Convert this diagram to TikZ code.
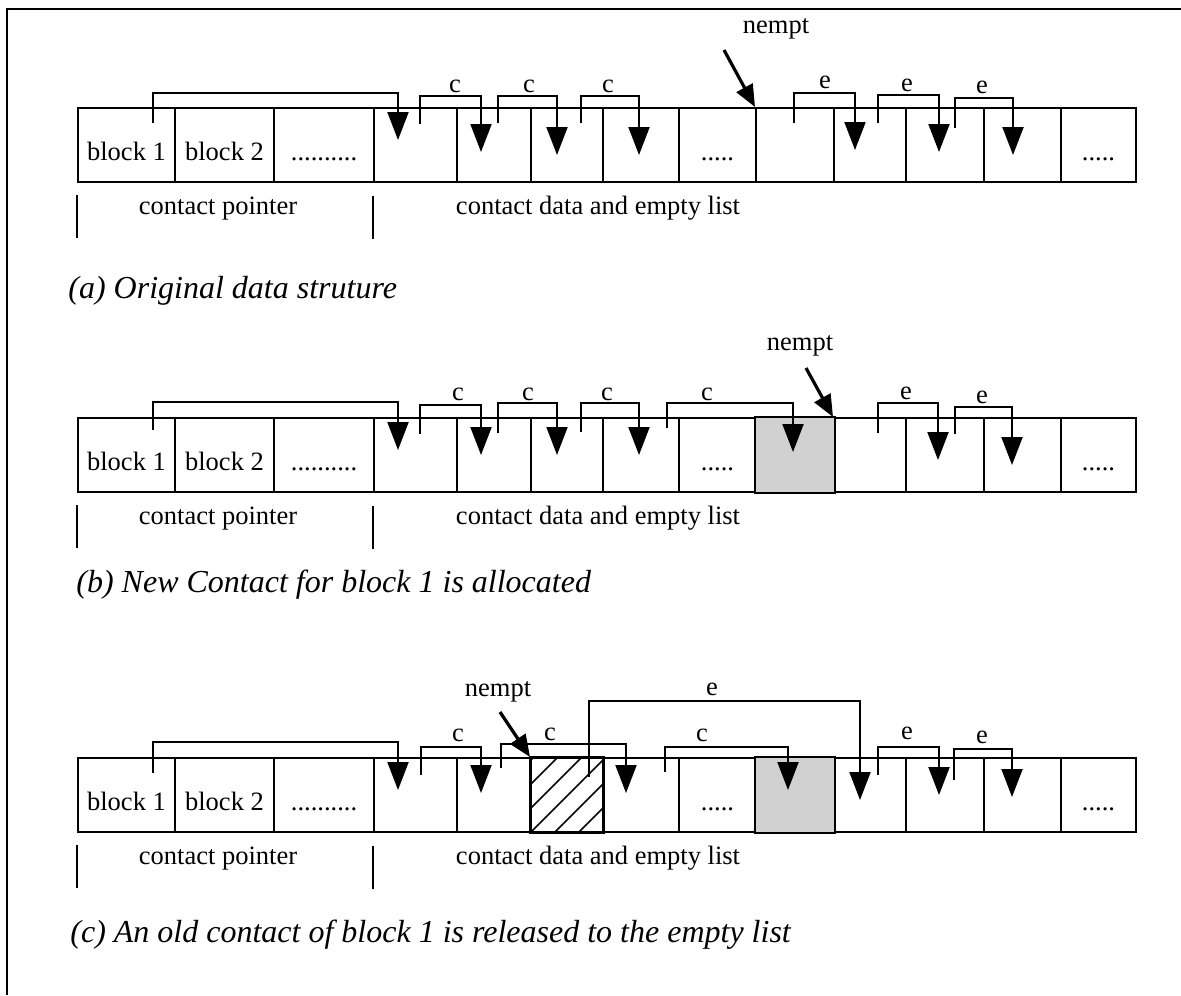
\documentclass[tikz,border=0pt]{standalone}
\usepackage{fontspec}
\setmainfont{Liberation Serif}
\usetikzlibrary{arrows.meta,calc}
\newcommand{\cellrow}[2]{%
  \foreach \i/\xa/\xb in {1/77/174,2/174/273,3/273/373,4/373/456,5/456/530,6/530/602,7/602/678,8/678/755,9/755/833,10/833/905,11/905/983,12/983/1060,13/1060/1135}{%
    \pgfmathsetmacro{\w}{(\xb-\xa)/2}%
    \node[cellbox,minimum width=\w pt] (#1\i) at (\xa,#2) {};
  }%
  \node[celltext] (#1t1) at ($(#11.center)+(0,15)$) {block 1};
  \node[celltext] (#1t2) at ($(#12.center)+(0,15)$) {block 2};
  \node[celltext] (#1t3) at ($(#13.center)+(0,15)$) {..........};
  \node[celltext] (#1t8) at ($(#18.center)+(0,15)$) {.....};
  \node[celltext] (#1t13) at ($(#113.center)+(0,15)$) {.....};
  \draw[bar] ($(#11.south west)+(0,12)$) -- ++(0,43);
  \draw[bar] ($(#14.south west)+(0,13)$) -- ++(0,43);
  \node[celltext] (#1cp) at ($(#11.south west)+(141,31)$) {contact pointer};
  \node[celltext] (#1cd) at ($(#11.south west)+(521,31)$) {contact data and empty list};
}
\newcommand{\ptrline}[6]{%
  \coordinate (#1s) at (#2,#3);
  \coordinate (#1e) at (#5,#6);
  \draw[ptr] (#1s) -- (#2,#4) -- (#5,#4) -- (#1e);
}
\newcommand{\plabel}[4]{\node[celltext] (#1) at (#2,#3) {#4};}
\begin{document}
\begin{tikzpicture}[x=0.5pt,y=-0.5pt,
  cellbox/.style={draw,line width=1pt,inner sep=0pt,minimum height=37pt,anchor=north west},
  celltext/.style={font=\fontsize{13.25}{15}\selectfont,anchor=base,inner sep=0pt},
  ptr/.style={line width=1pt,-{Triangle[width=10.5pt,length=14pt]}},
  nemptarrow/.style={line width=1.6pt,-{Triangle[width=9pt,length=11pt]}},
  capt/.style={font=\fontsize{16}{19}\selectfont\itshape,anchor=base west,inner sep=0pt},
  bar/.style={line width=1pt},
  shadedcell/.style={draw,line width=1pt,fill=black!18},
  hatchline/.style={line width=0.8pt}
]
\useasboundingbox (0,0) rectangle (1181,995);
\draw[line width=1.2pt] (7,995) -- (7,9) -- (1181,9);

% ---------------- (a) ----------------
\cellrow{a}{107}
\ptrline{ap0}{153}{123}{93}{398}{140}
\ptrline{ap1}{420}{124}{96}{481}{152}
\ptrline{ap2}{498}{123}{96}{557}{155}
\ptrline{ap3}{581}{123}{96}{639}{155}
\ptrline{ap4}{794}{123}{93}{855}{150}
\ptrline{ap5}{878}{123}{95}{939}{152}
\ptrline{ap6}{955}{128}{98}{1013}{155}
\plabel{al1}{455}{92}{c}
\plabel{al2}{529}{92}{c}
\plabel{al3}{608}{92}{c}
\plabel{al4}{825}{89}{e}
\plabel{al5}{907}{91}{e}
\plabel{al6}{982}{94}{e}
\plabel{an}{776}{34}{nempt}
\coordinate (ans) at (724,50);
\draw[nemptarrow] (ans) -- (a9.north west);
\node[capt] (acap) at (68,298) {(a) Original data struture};

% ---------------- (b) ----------------
\cellrow{b}{417}
\draw[shadedcell] (b9.north west) rectangle (b9.south east);
\ptrline{bp0}{153}{430}{402}{398}{450}
\ptrline{bp1}{420}{434}{405}{481}{455}
\ptrline{bp2}{498}{433}{403}{557}{455}
\ptrline{bp3}{581}{432}{403}{639}{455}
\ptrline{bp4}{667}{428}{403}{793}{452}
\ptrline{bp5}{878}{433}{403}{938}{460}
\ptrline{bp6}{955}{434}{407}{1012}{465}
\plabel{bl1}{458}{400}{c}
\plabel{bl2}{528}{400}{c}
\plabel{bl3}{607}{400}{c}
\plabel{bl4}{707}{400}{c}
\plabel{bl5}{906}{399}{e}
\plabel{bl6}{982}{403}{e}
\plabel{bn}{800}{350}{nempt}
\coordinate (bns) at (806,368);
\draw[nemptarrow] (bns) -- (b10.north west);
\node[capt] (bcap) at (76,592) {(b) New Contact for block 1 is allocated};

% ---------------- (c) ----------------
\cellrow{c}{757}
\draw[shadedcell] (c9.north west) rectangle (c9.south east);
\begin{scope}
  \clip (c6.north west) rectangle (c6.south east);
  \foreach \k in {-4,...,3}{
    \draw[hatchline] ($(c6.south west)+(\k*24,0)$) -- ++(90,-90);
  }
\end{scope}
\draw[line width=1pt] (c6.north west) rectangle (c6.south east);
\ptrline{cp0}{153}{773}{742}{398}{790}
\ptrline{cp1}{421}{775}{747}{481}{793}
\ptrline{cp2}{501}{768}{744}{626}{793}
\ptrline{cpE}{589}{777}{701}{860}{800}
\ptrline{cp3}{665}{772}{747}{788}{790}
\ptrline{cp4}{878}{775}{747}{939}{795}
\ptrline{cp5}{954}{780}{749}{1012}{797}
\plabel{cl1}{458}{741}{c}
\plabel{cl2}{550}{740}{c}
\plabel{clE}{712}{695}{e}
\plabel{cl3}{702}{741}{c}
\plabel{cl4}{907}{739}{e}
\plabel{cl5}{982}{743}{e}
\plabel{cn}{498}{696}{nempt}
\coordinate (cns) at (500,712);
\draw[nemptarrow] (cns) -- (c6.north west);
\node[capt] (ccap) at (70,942) {(c) An old contact of block 1 is released to the empty list};
\end{tikzpicture}
\end{document}
